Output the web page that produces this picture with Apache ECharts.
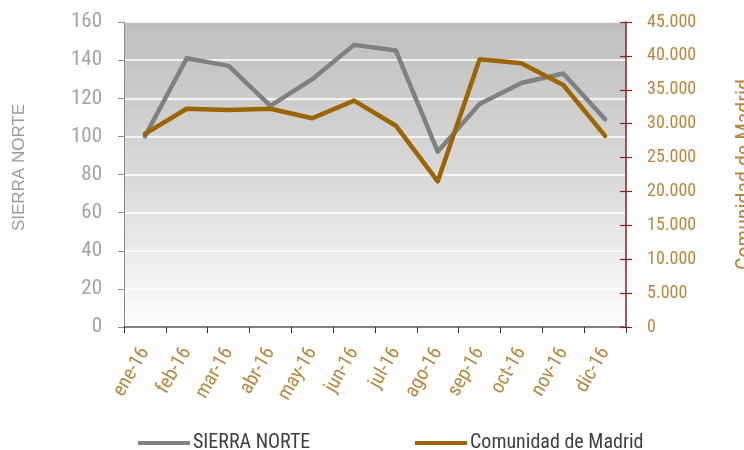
<!DOCTYPE html>
<html>
<head>
<meta charset="utf-8">
<script src="https://cdn.jsdelivr.net/npm/echarts@6/dist/echarts.min.js"></script>
<style>
  html, body { margin: 0; padding: 0; background: #ffffff; }
  #chart { width: 744px; height: 450px; }
</style>
</head>
<body>
<div id="chart"></div>
<script>
// Monthly values, 2016
const months = ['ene-16', 'feb-16', 'mar-16', 'abr-16', 'may-16', 'jun-16',
                'jul-16', 'ago-16', 'sep-16', 'oct-16', 'nov-16', 'dic-16'];
const sierraNorte = [100, 141, 137, 116, 130, 148, 145, 92, 117, 128, 133, 109];
const comunidadMadrid = [28500, 32200, 32000, 32200, 30800, 33400, 29700, 21500, 39500, 38900, 35700, 28200];

const leftTicks = { min: 0, max: 160, interval: 20 };
const rightTicks = { min: 0, max: 45000, interval: 5000 };

const narrow = '"Liberation Sans Narrow", "Roboto Condensed", Roboto, sans-serif';
const gold = '#b8873f';

const chart = echarts.init(document.getElementById('chart'));

function thousands(v) {
  return String(v).replace(/\B(?=(\d{3})+(?!\d))/g, '.');
}

chart.setOption({
  animation: false,
  grid: {
    left: 124, right: 118, top: 22, bottom: 123,
    outerBoundsMode: 'none',
    containLabel: false,
    show: true,
    borderWidth: 0,
    backgroundColor: new echarts.graphic.LinearGradient(0, 0, 0, 1, [
      { offset: 0, color: '#bebebe' },
      { offset: 0.5, color: '#d9d9d9' },
      { offset: 1, color: '#fdfdfd' }
    ])
  },
  legend: [
    {
      data: ['SIERRA NORTE'],
      left: 133, top: 428,
      icon: 'rect', itemWidth: 52, itemHeight: 4, itemGap: 4,
      textStyle: { fontFamily: narrow, fontSize: 20, color: '#3f3f3f', padding: [0, 0, 0, -2] }
    },
    {
      data: ['Comunidad de Madrid'],
      left: 410, top: 428,
      icon: 'rect', itemWidth: 52, itemHeight: 4, itemGap: 4,
      textStyle: { fontFamily: narrow, fontSize: 20, color: '#3f3f3f', padding: [0, 0, 0, -2] }
    }
  ],
  xAxis: {
    type: 'category',
    data: months,
    boundaryGap: true,
    axisLine: { lineStyle: { color: '#5a5a5a', width: 1.5 } },
    axisTick: { show: true, length: 6, alignWithLabel: false, lineStyle: { color: '#333333' } },
    axisLabel: {
      rotate: 60, margin: 22,
      fontFamily: narrow, fontSize: 20, color: gold
    },
    splitLine: { show: false }
  },
  yAxis: [
    {
      type: 'value',
      position: 'left',
      min: leftTicks.min, max: leftTicks.max, interval: leftTicks.interval,
      name: 'SIERRA NORTE',
      nameLocation: 'middle',
      nameRotate: 90,
      nameGap: 96,
      nameTextStyle: {
        fontFamily: '"Liberation Sans", Arial, sans-serif', fontSize: 17, color: '#9a9a9a',
        padding: [0, 0, 0, 14]
      },
      axisLine: { show: true, lineStyle: { color: '#8a8a8a', width: 1 } },
      axisTick: { show: true, length: 6, lineStyle: { color: '#8a8a8a' } },
      axisLabel: { margin: 22, fontFamily: narrow, fontSize: 21, color: '#a3a3a3' },
      splitLine: { show: true, lineStyle: { color: '#ffffff', width: 1.5 } }
    },
    {
      type: 'value',
      position: 'right',
      min: rightTicks.min, max: rightTicks.max, interval: rightTicks.interval,
      name: 'Comunidad de Madrid',
      nameLocation: 'middle',
      nameRotate: 90,
      nameGap: 108,
      nameTextStyle: { fontFamily: narrow, fontSize: 22, color: gold },
      axisLine: { show: true, lineStyle: { color: '#8b1e1e', width: 1.5 } },
      axisTick: { show: true, length: 6, lineStyle: { color: '#8b1e1e', width: 1.2 } },
      axisLabel: { margin: 21, fontFamily: narrow, fontSize: 18, color: gold, formatter: thousands },
      splitLine: { show: false }
    },
    {
      // inner half of the crossing ticks on the right axis
      type: 'value',
      position: 'right',
      min: rightTicks.min, max: rightTicks.max, interval: rightTicks.interval,
      axisLine: { show: false },
      axisTick: { show: true, inside: true, length: 6, lineStyle: { color: '#8b1e1e', width: 1.2 } },
      axisLabel: { show: false },
      splitLine: { show: false }
    }
  ],
  series: [
    {
      name: 'SIERRA NORTE',
      type: 'line',
      yAxisIndex: 0,
      data: sierraNorte,
      showSymbol: false,
      symbol: 'none',
      lineStyle: { color: '#808080', width: 4.5, cap: 'round', join: 'round' },
      itemStyle: { color: '#808080' },
      z: 2
    },
    {
      name: 'Comunidad de Madrid',
      type: 'line',
      yAxisIndex: 1,
      data: comunidadMadrid,
      showSymbol: false,
      symbol: 'none',
      lineStyle: { color: '#9c6500', width: 4.5, cap: 'round', join: 'round' },
      itemStyle: { color: '#9c6500' },
      z: 3
    }
  ]
});
</script>
</body>
</html>
